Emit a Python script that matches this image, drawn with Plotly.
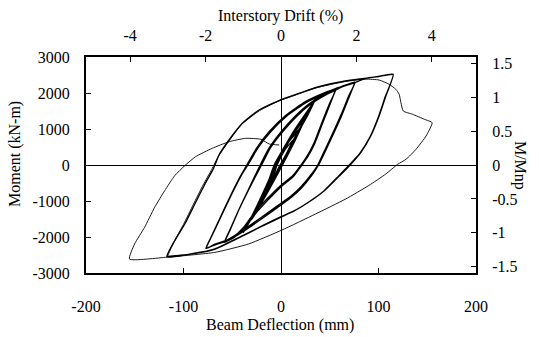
import plotly.graph_objects as go

# ---------------- data (Beam Deflection mm, Moment kN-m) ----------------
# elastic cycles (0.375 %, 0.5 %, 0.75 % drift), two cycles each
e1_x = [0, 14.5, 6, -1, -8, -15, -9, -4, 4, 14.5]
e1_y = [0, 760, 330, 0, -380, -780, -420, 0, 420, 760]
e2_x = [14.5, 20, 9, 0, -9, -21, -12, -5, 5, 20]
e2_y = [760, 1040, 480, 0, -470, -1080, -540, 0, 540, 1040]
e2b_x = [20, 9.5, 0.5, -8.5, -21, -12.5, -5.5, 4.5, 20]
e2b_y = [1040, 480, 0, -460, -1070, -540, 0, 530, 1030]
e3_x = [20, 28, 15, 1, -13, -30, -18, -6, 10, 28]
e3_y = [1030, 1480, 760, 0, -710, -1520, -800, 0, 770, 1480]
e3b_x = [28, 15.5, 1.5, -12.5, -29.5, -17.5, -5, 10.5, 28.5]
e3b_y = [1480, 740, 0, -700, -1500, -780, 0, 760, 1470]

# 1 % drift cycle (two cycles)
d1_x = [28.5, 35.4, 28, 18, 8, 0, -8, -18, -28, -38.6, -30, -20, -12, -7, 3, 14, 25, 35.4]
d1_y = [1470, 1826, 1450, 960, 450, 0, -380, -880, -1370, -1871, -1430, -860, -380, 0, 480, 980, 1420, 1826]
d1b_x = [35.4, 28.5, 18.5, 8.5, 0.5, -7.5, -17.5, -27.5, -38, -29.5, -19.5, -11.5, -6, 4, 15, 26, 35]
d1b_y = [1826, 1440, 940, 430, 0, -370, -860, -1350, -1850, -1400, -840, -360, 0, 490, 990, 1410, 1810]

# 1.5 % drift cycle (two cycles)
d15_x = [35, 45, 56, 50, 42, 34, 27, 20.6, 12, 0, -15, -28, -38, -48, -58,
         -52, -43, -33, -21.3, -12, 0, 15, 30, 45, 56]
d15_y = [1810, 1960, 2090, 1720, 1180, 620, 260, 0, -300, -560, -960, -1350, -1720, -1980, -2150,
         -1780, -1230, -660, 0, 480, 920, 1370, 1720, 1960, 2090]
d15b_x = [56, 50.5, 42.5, 34.5, 27.5, 21.5, 13, 1, -14, -27, -37, -47, -57.5,
          -51.5, -42.5, -32, -20, -11, 1, 16, 31, 46, 56]
d15b_y = [2090, 1700, 1150, 590, 230, 0, -310, -580, -990, -1380, -1740, -1990, -2140,
          -1760, -1200, -620, 0, 470, 900, 1350, 1700, 1950, 2080]

# 2 % drift cycle (two cycles)
d2_x = [56, 66, 76, 70, 62, 52, 44, 37.7, 30, 20, 10, 0, -20, -40, -55, -67.7, -77,
        -72, -63, -52, -42, -35, -25, -12, 5, 25, 45, 56, 66, 76]
d2_y = [2080, 2210, 2300, 1950, 1420, 820, 360, 0, -300, -620, -870, -1064, -1450, -1830, -2080, -2200, -2316,
        -2020, -1500, -870, -330, 0, 470, 930, 1380, 1760, 2010, 2120, 2220, 2300]
d2b_x = [76, 70.5, 62.5, 52.5, 44.5, 38.5, 31, 21, 11, 1, -19, -39, -54, -67, -76.5,
         -71.5, -62, -51, -41, -34, -24, -11, 6, 26, 46, 57, 67, 76]
d2b_y = [2300, 1930, 1390, 790, 330, 0, -310, -640, -890, -1090, -1480, -1850, -2090, -2210, -2310,
         -2000, -1460, -830, -300, 0, 460, 910, 1360, 1740, 1990, 2110, 2210, 2290]

# 3 % drift cycle (two cycles)
d3_x = [76, 87, 100, 115, 107.5, 100.6, 92, 81.8, 70, 60, 45, 30, 15, 0, -20, -45, -67.7, -90, -117,
        -109, -98.7, -88.4, -78, -69.5, -63.6, -53.3, -39.6, -22.4, -2, 20, 35, 50, 66, 87, 100, 115,
        107, 100, 91.5, 81, 69, 59, 44, 29, 14, -1, -21, -46, -68, -91, -116.5]
d3_y = [2290, 2410, 2460, 2520, 1917, 1361, 806, 342, -28, -300, -700, -1000, -1250, -1436, -1700, -2040, -2330, -2460, -2548,
        -2103, -1639, -1083, -528, -111, 278, 695, 1158, 1528, 1790, 2000, 2147, 2250, 2333, 2410, 2460, 2510,
        1900, 1340, 790, 330, -30, -310, -720, -1020, -1270, -1460, -1720, -2060, -2345, -2470, -2540]

# final 4 % drift excursion (thin line)
f_x = [-116.5, -110, -100, -90, -80, -71, -64, -53, -40, -22, -2, 35, 66, 87, 100.6, 110.9, 117.8, 121.2,
       123, 125.4, 135, 147, 155, 148.8, 138.5, 128.2, 119.6, 107.5, 90, 66.3, 35.4, 1, -33.4, -67.7,
       -117, -155.4, -150.2, -139.9, -129.6, -119.3, -109, -98.7, -87.6, -70.5, -53.3, -36.1, -20.6, -12, -1.8]
f_y = [-2540, -2150, -1650, -1100, -560, -120, 250, 680, 1140, 1510, 1780, 2135, 2320, 2385, 2361, 2242, 2103, 1964,
       1731, 1500, 1408, 1270, 1175, 806, 436, 158, 19, -250, -570, -945, -1361, -1806, -2195, -2426,
       -2560, -2613, -2195, -1731, -1175, -714, -297, -19, 231, 464, 647, 741, 714, 583, 556]

x_ticks = [-200, -100, 0, 100, 200]
x_text = ["-200", "-100", "0", "100", "200"]
y_ticks = [-3000, -2000, -1000, 0, 1000, 2000, 3000]
y_text = ["-3000", "-2000", "-1000", "0", "1000", "2000", "3000"]
drift_ticks = [-4, -2, 0, 2, 4]
drift_text = ["-4", "-2", "0", "2", "4"]
ratio_ticks = [-1.5, -1, -0.5, 0, 0.5, 1, 1.5]
ratio_text = ["-1.5", "-1", "-0.5", "0", "0.5", "1", "1.5"]

thick_x = (e1_x + e2_x + e2b_x + e3_x + e3b_x + d1_x + d1b_x + d15_x + d15b_x
           + d2_x + d2b_x + d3_x)
thick_y = (e1_y + e2_y + e2b_y + e3_y + e3b_y + d1_y + d1b_y + d15_y + d15b_y
           + d2_y + d2b_y + d3_y)

FONT = dict(family="Liberation Serif", size=16, color="black")

fig = go.Figure()
fig.add_trace(go.Scatter(x=thick_x, y=thick_y, mode="lines",
                         line=dict(color="black", width=1.4, shape="spline", smoothing=0.5),
                         hoverinfo="skip", showlegend=False))
fig.add_trace(go.Scatter(x=f_x, y=f_y, mode="lines",
                         line=dict(color="black", width=0.9, shape="spline", smoothing=0.5),
                         hoverinfo="skip", showlegend=False))
# invisible trace to activate the secondary axes
fig.add_trace(go.Scatter(x=drift_ticks, y=[0] * len(drift_ticks), xaxis="x2", yaxis="y2",
                         mode="markers", opacity=0, hoverinfo="skip", showlegend=False))

axis_common = dict(showgrid=False, ticks="inside", ticklen=5, tickwidth=1, tickcolor="black",
                   showline=True, linewidth=2, linecolor="black", tickfont=FONT)

fig.update_layout(
    width=539, height=337,
    margin=dict(l=86, r=63, t=57, b=64),
    paper_bgcolor="white", plot_bgcolor="white",
    font=FONT,
    xaxis=dict(range=[-200, 200], tickvals=x_ticks, ticktext=x_text, zeroline=True, zerolinecolor="black",
               zerolinewidth=1, ticklabelstandoff=18, **axis_common),
    xaxis2=dict(range=[-5.17, 5.17], tickvals=drift_ticks, ticktext=drift_text, overlaying="x", side="top",
                zeroline=False, ticklabelstandoff=8, **axis_common),
    yaxis=dict(range=[-3000, 3000], tickvals=y_ticks, ticktext=y_text, zeroline=True, zerolinecolor="black",
               zerolinewidth=1, ticklabelstandoff=11, **axis_common),
    yaxis2=dict(range=[-1.593, 1.593], tickvals=ratio_ticks, ticktext=ratio_text, overlaying="y",
                side="right", zeroline=False, ticklabelstandoff=11, **axis_common),
    annotations=[
        dict(text="Interstory Drift (%)", xref="paper", yref="paper", x=0.4987, y=1.192,
             xanchor="center", yanchor="middle", showarrow=False, font=FONT),
        dict(text="Beam Deflection (mm)", xref="paper", yref="paper", x=0.4987, y=-0.2407,
             xanchor="center", yanchor="middle", showarrow=False, font=FONT),
        dict(text="Moment (kN-m)", xref="paper", yref="paper", x=-0.182, y=0.551,
             xanchor="center", yanchor="middle", textangle=-90, showarrow=False, font=FONT),
        dict(text="M/Mnp", xref="paper", yref="paper", x=1.113, y=0.5,
             xanchor="center", yanchor="middle", textangle=90, showarrow=False, font=FONT),
    ],
)

fig.write_html("out.html")
